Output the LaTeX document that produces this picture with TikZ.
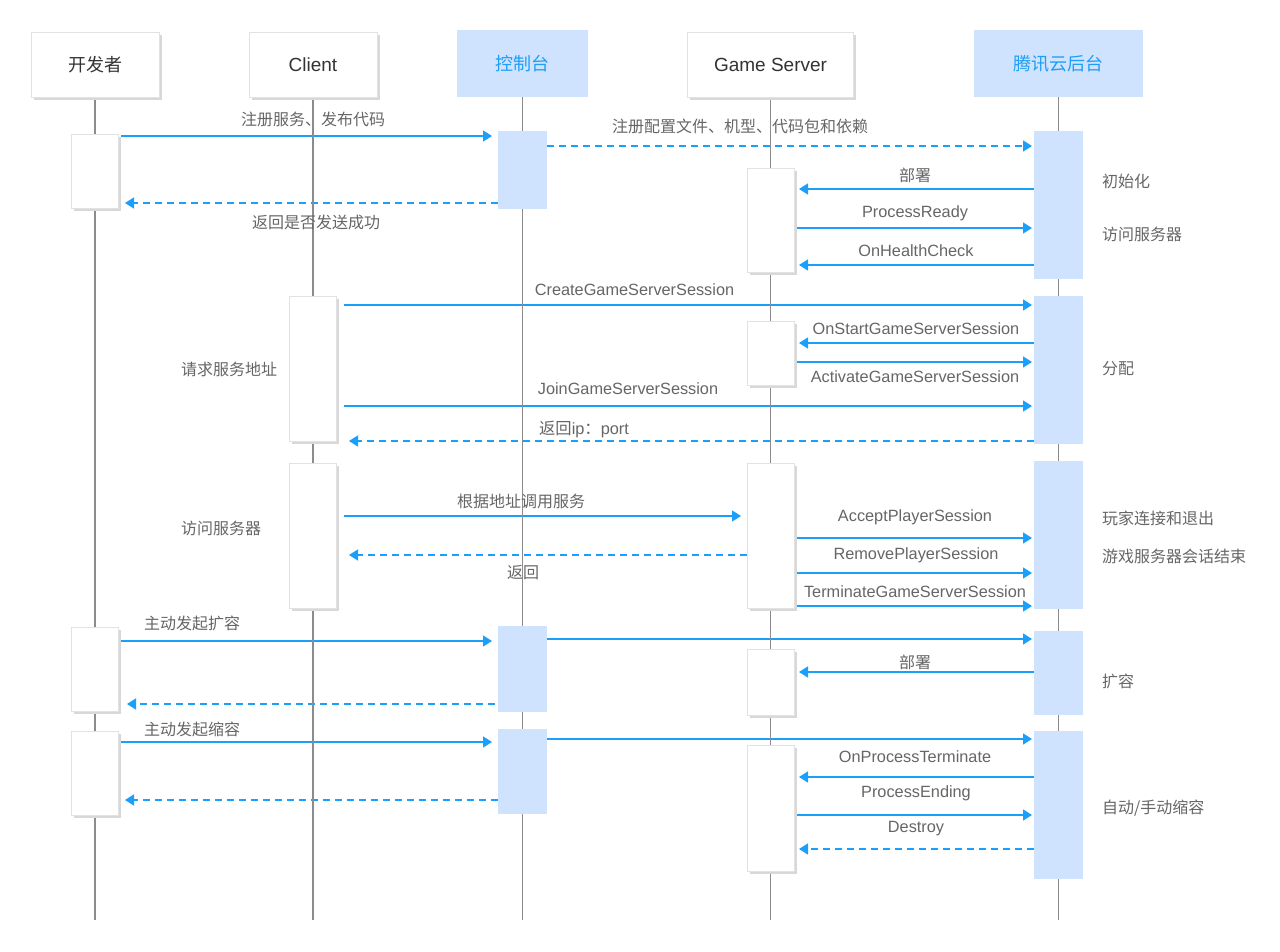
\documentclass[tikz,border=0pt]{standalone}
\usepackage{fontspec}
\setmainfont{Liberation Sans}
\newfontfamily\cjk{Noto Sans CJK SC}
\usetikzlibrary{arrows.meta,shadows}
\definecolor{lifegray}{HTML}{8C8C8C}
\definecolor{boxborder}{HTML}{E2E2E2}
\definecolor{shadowgray}{HTML}{D8D8D8}
\definecolor{bluefill}{HTML}{CFE3FE}
\definecolor{arrowblue}{HTML}{1AA0FA}
\definecolor{headblue}{HTML}{1E9EF5}
\definecolor{labelgray}{HTML}{666666}
\definecolor{headgray}{HTML}{333333}
\pgfdeclarelayer{bglayer}
\pgfdeclarelayer{arrowlayer}
\pgfdeclarelayer{lifelayer}
\pgfsetlayers{bglayer,arrowlayer,lifelayer,main}
\tikzset{
  lifeline/.style={draw=lifegray, line width=1.3pt},
  whitebox/.style={draw=boxborder, fill=white, line width=0.8pt, inner sep=0pt, outer sep=0pt,
    general shadow={fill=shadowgray, shadow xshift=2.5pt, shadow yshift=-2.5pt}},
  bluebox/.style={fill=bluefill, draw=none, inner sep=0pt, outer sep=0pt},
  msg/.style={draw=arrowblue, line width=1.4pt, -{Triangle[length=9pt,width=11pt]}},
  ret/.style={msg, dash pattern=on 7pt off 5pt},
  lbl/.style={text=labelgray, font=\fontsize{16.3}{19}\selectfont, inner sep=0pt},
  clbl/.style={text=labelgray, font=\cjk\fontsize{16}{19}\selectfont, inner sep=0pt},
  hwtext/.style={text=headgray},
  hbtext/.style={text=headblue},
}
\newcommand\actW[4]{\node[whitebox, anchor=north west, minimum width=47pt, minimum height=#4pt] (#1) at (#2,#3) {};}
\newcommand\actB[4]{\node[bluebox, anchor=north west, minimum width=49pt, minimum height=#4pt] (#1) at (#2,#3) {};}
\begin{document}
\begin{tikzpicture}[x=1pt,y=-1pt]
\begin{pgfonlayer}{bglayer}
\fill[white] (0,0) rectangle (1280,951);
\end{pgfonlayer}
\useasboundingbox (0,0) rectangle (1280,951);

% headers
\node[whitebox, minimum width=128pt, minimum height=65pt, hwtext, font=\cjk\fontsize{18}{20}\selectfont] (hdev) at (95,64.5) {开发者};
\node[whitebox, minimum width=128pt, minimum height=65pt, hwtext, font=\fontsize{19}{22}\selectfont] (hcli) at (313,64.5) {Client};
\node[bluebox, minimum width=131pt, minimum height=67pt, hbtext, font=\cjk\fontsize{18}{20}\selectfont] (hcon) at (522.5,63.5) {控制台};
\node[whitebox, minimum width=166pt, minimum height=65pt, hwtext, font=\fontsize{19}{22}\selectfont] (hgs) at (770.5,64.5) {Game Server};
\node[bluebox, minimum width=169pt, minimum height=67pt, hbtext, font=\cjk\fontsize{18}{20}\selectfont] (htc) at (1058.5,63.5) {腾讯云后台};

% lifeline ends
\coordinate (edev) at (95,920);
\coordinate (ecli) at (313,920);
\coordinate (econ) at (522.5,920);
\coordinate (egs) at (770.5,920);
\coordinate (etc) at (1058.5,920);
\begin{pgfonlayer}{lifelayer}
\draw[lifeline] (hdev.south) -- (edev);
\draw[lifeline] (hcli.south) -- (ecli);
\draw[lifeline] (hcon.south) -- (econ);
\draw[lifeline] (hgs.south) -- (egs);
\draw[lifeline] (htc.south) -- (etc);
\end{pgfonlayer}

% activation boxes
\actW{d1}{71}{134}{74}
\actW{d2}{71}{627}{84}
\actW{d3}{71}{731}{84}
\actW{c1}{289}{296}{145}
\actW{c2}{289}{463}{145}
\actB{k1}{498}{131}{78}
\actB{k2}{498}{626}{86}
\actB{k3}{498}{729}{85}
\actW{g1}{747}{168}{104}
\actW{g2}{747}{321}{64}
\actW{g3}{747}{463}{145}
\actW{g4}{747}{649}{66}
\actW{g5}{747}{745}{126}
\actB{t1}{1034}{131}{148}
\actB{t2}{1034}{296}{148}
\actB{t3}{1034}{461}{148}
\actB{t4}{1034}{631}{84}
\actB{t5}{1034}{731}{148}

% messages
\begin{pgfonlayer}{arrowlayer}
\draw[msg, shorten <=3pt, shorten >=6pt] (d1.east |- 0,136) -- (k1.west |- 0,136);
\draw[ret, shorten >=2pt] (k1.east |- 0,146) -- (t1.west |- 0,146);
\draw[ret, shorten >=7pt] (k1.west |- 0,203) -- (d1.east |- 0,203);
\draw[msg, shorten >=5pt] (t1.west |- 0,189) -- (g1.east |- 0,189);
\draw[msg, shorten <=3pt, shorten >=2pt] (g1.east |- 0,228) -- (t1.west |- 0,228);
\draw[msg, shorten >=5pt] (t1.west |- 0,265) -- (g1.east |- 0,265);
\draw[msg, shorten <=8pt, shorten >=2pt] (c1.east |- 0,305) -- (t2.west |- 0,305);
\draw[msg, shorten >=5pt] (t2.west |- 0,343) -- (g2.east |- 0,343);
\draw[msg, shorten <=3pt, shorten >=2pt] (g2.east |- 0,362) -- (t2.west |- 0,362);
\draw[msg, shorten <=8pt, shorten >=2pt] (c1.east |- 0,406) -- (t2.west |- 0,406);
\draw[ret, shorten >=13pt] (t2.west |- 0,441) -- (c1.east |- 0,441);
\draw[msg, shorten <=8pt, shorten >=6pt] (c2.east |- 0,516) -- (g3.west |- 0,516);
\draw[ret, shorten >=13pt] (g3.west |- 0,555) -- (c2.east |- 0,555);
\draw[msg, shorten <=3pt, shorten >=2pt] (g3.east |- 0,538) -- (t3.west |- 0,538);
\draw[msg, shorten <=3pt, shorten >=2pt] (g3.east |- 0,573) -- (t3.west |- 0,573);
\draw[msg, shorten <=3pt, shorten >=2pt] (g3.east |- 0,606) -- (t3.west |- 0,606);
\draw[msg, shorten <=3pt, shorten >=6pt] (d2.east |- 0,641) -- (k2.west |- 0,641);
\draw[msg, shorten >=2pt] (k2.east |- 0,639) -- (t4.west |- 0,639);
\draw[msg, shorten >=5pt] (t4.west |- 0,672) -- (g4.east |- 0,672);
\draw[ret, shorten <=3pt, shorten >=9pt] (k2.west |- 0,704) -- (d2.east |- 0,704);
\draw[msg, shorten <=3pt, shorten >=6pt] (d3.east |- 0,742) -- (k3.west |- 0,742);
\draw[msg, shorten >=2pt] (k3.east |- 0,739) -- (t5.west |- 0,739);
\draw[msg, shorten >=5pt] (t5.west |- 0,777) -- (g5.east |- 0,777);
\draw[msg, shorten <=3pt, shorten >=2pt] (g5.east |- 0,815) -- (t5.west |- 0,815);
\draw[ret, shorten >=5pt] (t5.west |- 0,849) -- (g5.east |- 0,849);
\draw[ret, shorten >=7pt] (k3.west |- 0,800) -- (d3.east |- 0,800);
\end{pgfonlayer}

% message labels
\node[clbl] (m1) at (313,119) {注册服务、发布代码};
\node[clbl] (m2) at (740,126) {注册配置文件、机型、代码包和依赖};
\node[clbl] (m3) at (316,222) {返回是否发送成功};
\node[clbl] (m4) at (915,175) {部署};
\node[lbl] (m5) at (915,213) {ProcessReady};
\node[lbl] (m6) at (916,251) {OnHealthCheck};
\node[lbl] (m7) at (634.5,290) {CreateGameServerSession};
\node[lbl] (m8) at (916,329) {OnStartGameServerSession};
\node[lbl] (m9) at (915,377) {ActivateGameServerSession};
\node[lbl] (m10) at (628,389) {JoinGameServerSession};
\node[lbl] (m11) at (584,429) {{\cjk 返回}ip{\cjk ：}port};
\node[clbl] (m12) at (521,501) {根据地址调用服务};
\node[clbl] (m13) at (523,573) {返回};
\node[lbl] (m14) at (915,517) {AcceptPlayerSession};
\node[lbl] (m15) at (916,555) {RemovePlayerSession};
\node[lbl] (m16) at (915,592) {TerminateGameServerSession};
\node[clbl] (m17) at (192,623) {主动发起扩容};
\node[clbl] (m18) at (915,662) {部署};
\node[clbl] (m19) at (192,729) {主动发起缩容};
\node[lbl] (m20) at (915,757) {OnProcessTerminate};
\node[lbl] (m21) at (916,793) {ProcessEnding};
\node[lbl] (m22) at (916,829) {Destroy};

% side notes
\node[clbl, anchor=west] (n1) at (1102,181) {初始化};
\node[clbl, anchor=west] (n2) at (1102,234) {访问服务器};
\node[clbl, anchor=west] (n3) at (1102,369) {分配};
\node[clbl, anchor=west] (n4) at (1102,518) {玩家连接和退出};
\node[clbl, anchor=west] (n5) at (1102,556) {游戏服务器会话结束};
\node[clbl, anchor=west] (n6) at (1102,681) {扩容};
\node[clbl, anchor=west] (n7) at (1102,808) {自动/手动缩容};
\node[clbl, anchor=west] (n8) at (181,369) {请求服务地址};
\node[clbl, anchor=west] (n9) at (181,528) {访问服务器};
\end{tikzpicture}
\end{document}
